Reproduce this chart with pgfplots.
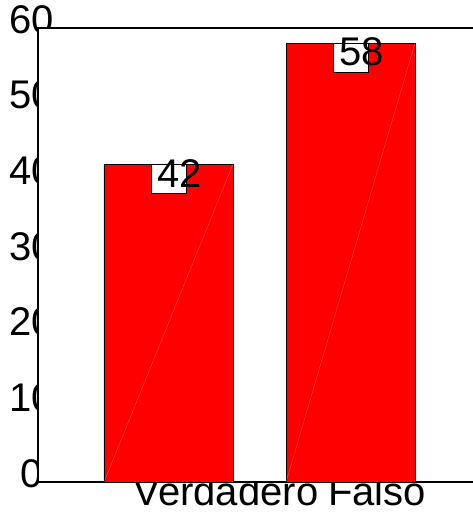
\documentclass[border=0pt]{standalone}
\usepackage{pgfplots}
\pgfplotsset{compat=1.18}
\usepackage{fontspec}
\setmainfont{Liberation Sans}
\pgfplotsset{
 base/.style={
  scale only axis, width=445bp, height=454bp,
  at={(38bp,30bp)}, anchor=south west,
  xmin=-0.717, xmax=1.728, ymin=0, ymax=60,
  font=\fontsize{40bp}{48bp}\selectfont,
  /pgf/number format/assume math mode=true,
  major tick length=0pt,
 }
}
\begin{document}
\begin{tikzpicture}
\useasboundingbox (0,0) rectangle (473bp,512bp);
% axis 1: tick labels only (drawn beneath the white plot box)
\begin{axis}[base, axis line style={draw=none},
 ytick={0,10,...,60},
 yticklabel style={anchor=base, inner sep=0pt, xshift=-6bp, yshift=-5bp},
 xtick={0.316,1.146}, xticklabels={Verdadero,Falso},
 xticklabel style={anchor=base, inner sep=0pt, yshift=-23bp},
]
\addplot[draw=none] coordinates {(0,0)};
\end{axis}
% axis 2: white box, bars and labels
\begin{axis}[base, axis background/.style={fill=white}, xtick=\empty, ytick=\empty,
 axis line style={line width=1.2bp}]
\addplot[ybar, bar width=129bp, fill=red, draw=black, line width=0.7bp,
 nodes near coords={\makebox[0pt]{\hspace{23bp}\raisebox{-8bp}[0pt][0pt]{\pgfmathprintnumber{\pgfplotspointmeta}}}},
 nodes near coords align={anchor=north},
 every node near coord/.append style={anchor=north, fill=white, draw=black, line width=0.7bp, minimum width=35bp, minimum height=29bp, inner sep=0pt, text=black}]
 coordinates {(0,42) (1,58)};
\addplot[sharp plot, white, opacity=0.35, line width=0.3bp] coordinates {(-0.354,0) (0.354,42)};
\addplot[sharp plot, white, opacity=0.35, line width=0.3bp] coordinates {(0.646,0) (1.354,58)};
\end{axis}
\end{tikzpicture}
\end{document}
